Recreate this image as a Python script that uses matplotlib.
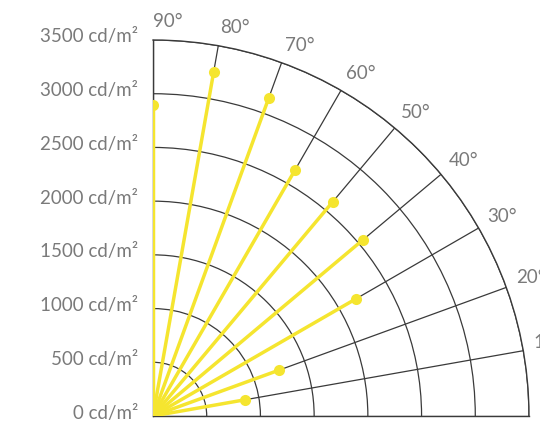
import numpy as np
import matplotlib
matplotlib.use("Agg")
import matplotlib.pyplot as plt

plt.rcParams['font.family'] = ['Lato', 'DejaVu Sans']

# luminance per emission angle
angles_deg = [0, 10, 20, 30, 40, 50, 60, 70, 80, 90]
luminance = [0, 865, 1250, 2180, 2555, 2600, 2640, 3155, 3255, 2895]
r_ticks = [0, 500, 1000, 1500, 2000, 2500, 3000, 3500]
r_max = 3500

yellow = '#F5E52F'
grey_txt = '#7a7a7a'
grid_col = '#3a3a3a'

W, H = 540, 421
fig = plt.figure(figsize=(W / 100, H / 100), dpi=100)
ox, oy, rad = 153, 416, 376
ax = fig.add_axes([ox / W, (H - oy) / H, rad / W, rad / H], projection='polar')
ax.set_thetamin(0)
ax.set_thetamax(90)
ax.set_rlim(0, r_max)
ax.set_rticks(r_ticks[1:])
ax.set_yticklabels([])
ax.set_thetagrids(angles_deg, labels=[])
ax.grid(True, color=grid_col, lw=0.9)
ax.tick_params(length=0)
for sp in ax.spines.values():
    sp.set_color(grid_col)
    sp.set_linewidth(1.0)

theta = np.deg2rad(angles_deg)
for t, v in zip(theta, luminance):
    ax.plot([t, t], [0, v], color=yellow, lw=2.5, solid_capstyle='round', zorder=3)
ax.plot(theta, luminance, 'o', color=yellow, ms=8, mec='none', zorder=4)

# radial labels on the left
for r in r_ticks:
    ax.annotate(f'{r} cd/m²', xy=(np.pi / 2, r), xytext=(-15, 3),
                textcoords='offset pixels', ha='right', va='center',
                fontsize=13.5, color=grey_txt, annotation_clip=False)

# angle labels round the outer arc
for a in angles_deg:
    t = np.deg2rad(a)
    dx = 10 * np.cos(t)
    dy = 6 + 12 * np.sin(t)
    ax.annotate(f'{a}°', xy=(t, r_max), xytext=(dx, dy),
                textcoords='offset pixels', ha='left', va='center',
                fontsize=13.5, color=grey_txt, annotation_clip=False)

fig.savefig('out.png', dpi=100)
